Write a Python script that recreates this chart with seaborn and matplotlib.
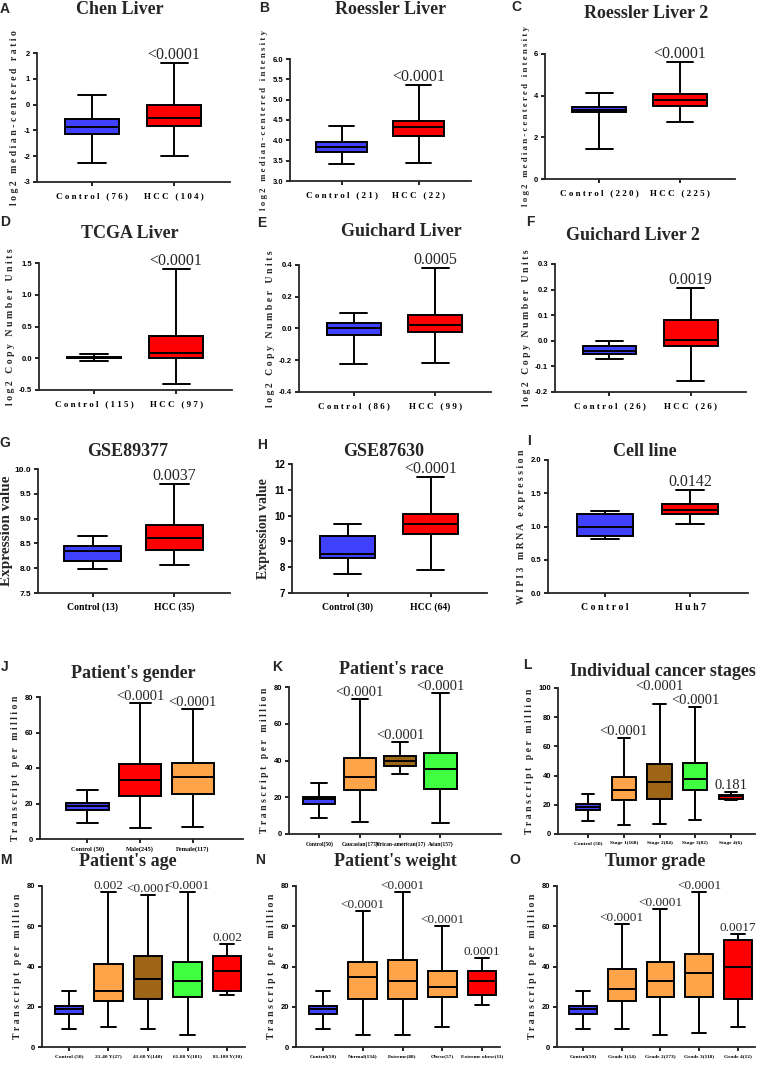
import numpy as np
import pandas as pd
import matplotlib
matplotlib.use('Agg')
import matplotlib.pyplot as plt
import seaborn as sns

BLUE = '#4040ff'
RED = '#ff0000'
ORANGE = '#ffa448'
BROWN = '#9e6418'
GREEN = '#40ff40'

# five-number summaries: [min, q1, median, q3, max]
chen_groups = ['Control (76)', 'HCC (104)']
chen_stats = [[-2.28, -1.15, -0.85, -0.56, 0.37], [-2.01, -0.83, -0.52, -0.02, 1.61]]
chen_p = ['', '<0.0001']

roes_groups = ['Control (21)', 'HCC (22)']
roes_stats = [[3.43, 3.72, 3.84, 3.96, 4.36], [3.44, 4.10, 4.33, 4.48, 5.37]]
roes_p = ['', '<0.0001']

roes2_groups = ['Control (220)', 'HCC (225)']
roes2_stats = [[1.44, 3.20, 3.33, 3.46, 4.13], [2.72, 3.52, 3.81, 4.10, 5.62]]
roes2_p = ['', '<0.0001']

tcga_groups = ['Control (115)', 'HCC (97)']
tcga_stats = [[-0.04, 0.0, 0.01, 0.015, 0.06], [-0.41, 0.01, 0.09, 0.35, 1.40]]
tcga_p = ['', '<0.0001']

guich_groups = ['Control (86)', 'HCC (99)']
guich_stats = [[-0.221, -0.042, 0.004, 0.032, 0.099], [-0.217, -0.021, 0.021, 0.084, 0.379]]
guich_p = ['', '0.0005']

guich2_groups = ['Control (26)', 'HCC (26)']
guich2_stats = [[-0.071, -0.052, -0.041, -0.021, 0.0], [-0.157, -0.021, 0.005, 0.081, 0.207]]
guich2_p = ['', '0.0019']

gse1_groups = ['Control (13)', 'HCC (35)']
gse1_stats = [[7.99, 8.15, 8.34, 8.45, 8.64], [8.07, 8.36, 8.60, 8.87, 9.70]]
gse1_p = ['', '0.0037']

gse2_groups = ['Control (30)', 'HCC (64)']
gse2_stats = [[7.75, 8.36, 8.53, 9.21, 9.66], [7.88, 9.27, 9.66, 10.06, 11.49]]
gse2_p = ['', '<0.0001']

cell_groups = ['Control', 'Huh7']
cell_stats = [[0.815, 0.86, 0.985, 1.185, 1.235], [1.035, 1.19, 1.25, 1.34, 1.55]]
cell_p = ['', '0.0142']

control50 = [8.8, 16.3, 18.8, 20.4, 27.6]

gender_groups = ['Control (50)', 'Male(245)', 'Female(117)']
gender_stats = [control50, [6.4, 24.4, 33.2, 42.5, 76.6], [6.9, 25.1, 35.0, 42.9, 73.1]]
gender_p = ['', '<0.0001', '<0.0001']

race_groups = ['Control(50)', 'Caucasian(177)', 'African-american(17)', 'Asian(157)']
race_stats = [control50, [6.3, 24.1, 30.8, 41.3, 73.5], [32.8, 37.2, 39.5, 42.6, 50.1],
              [6.0, 24.5, 35.4, 44.1, 76.7]]
race_p = ['', '<0.0001', '<0.0001', '<0.0001']

stage_groups = ['Control (50)', 'Stage 1(168)', 'Stage 2(84)', 'Stage 3(82)', 'Stage 4(6)']
stage_stats = [control50, [6.4, 23.5, 29.9, 38.8, 65.8], [6.8, 24.2, 35.6, 47.9, 89.0],
               [9.4, 29.9, 37.9, 48.6, 87.0], [23.1, 24.0, 25.8, 26.9, 29.0]]
stage_p = ['', '<0.0001', '<0.0001', '<0.0001', '0.181']

age_groups = ['Control (50)', '21-40 Y(27)', '41-60 Y(140)', '61-80 Y(181)', '81-100 Y(10)']
age_stats = [control50, [10, 23, 28, 41, 77], [9, 24, 34, 45, 75.5],
             [6, 25, 33, 42, 77], [26, 28, 38, 45, 51]]
age_p = ['', '0.002', '<0.0001', '<0.0001', '0.002']

weight_groups = ['Control(50)', 'Normal(134)', 'Extreme(88)', 'Obese(57)', 'Extreme obese(11)']
weight_stats = [control50, [6, 24, 35, 42, 67.5], [6, 24, 33, 43, 77],
                [10, 25, 30, 38, 60], [21, 26, 33, 38, 44]]
weight_p = ['', '<0.0001', '<0.0001', '<0.0001', '0.0001']

grade_groups = ['Control(50)', 'Grade 1(54)', 'Grade 2(173)', 'Grade 3(118)', 'Grade 4(12)']
grade_stats = [control50, [9, 23, 29, 39, 61], [6, 25, 33, 42, 68.5],
               [7, 25, 37, 46, 77], [10, 24, 40, 53, 56]]
grade_p = ['', '<0.0001', '<0.0001', '<0.0001', '0.0017']

sns.set_style('ticks')
plt.rcParams['font.family'] = ['Liberation Sans', 'DejaVu Sans']
SERIF = 'Liberation Serif'

W, H = 761, 1082
fig = plt.figure(figsize=(W / 100, H / 100), dpi=100)


def px_axes(left, top, right, bottom):
    return fig.add_axes([left / W, 1 - bottom / H, (right - left) / W, (bottom - top) / H])


def px_text(x, y, s, **kw):
    fig.text(x / W, 1 - y / H, s, ha='center', va='center', **kw)


def spaced(s):
    return ' '.join(s)


def panel(rect, letter, letter_xy, title, title_xy, groups, stats, pvals, colors,
          ylim, step, fmt, ylabel, xlim, width=0.66, xfont=6.5, xspaced=True, xpad=4,
          yfont=5.5, ylab_font=7, ylab_spaced=True, labelpad=3, pfont=11.5, p_raise=None,
          title_font=13):
    ax = px_axes(*rect)
    df = pd.DataFrame([(g, v) for g, s in zip(groups, stats) for v in s], columns=['group', 'value'])
    sns.boxplot(data=df, x='group', y='value', hue='group', order=groups, hue_order=groups,
                palette=colors, saturation=1, whis=(0, 100), width=width, linewidth=1.4,
                linecolor='black', legend=False, ax=ax)
    ax.set_xlim(*xlim)
    ax.set_ylim(*ylim)
    ticks = np.arange(ylim[0], ylim[1] + step / 2, step)
    ax.set_yticks(ticks)
    ax.set_yticklabels([fmt.format(t) for t in ticks], fontsize=yfont, fontweight='bold')
    ax.set_xticks(range(len(groups)))
    xl = [spaced(g) if xspaced else g for g in groups]
    ax.set_xticklabels(xl, fontsize=xfont, fontweight='bold', family=SERIF)
    ax.set_xlabel('')
    ax.set_ylabel(spaced(ylabel) if ylab_spaced else ylabel, fontsize=ylab_font,
                  fontweight='bold', family=SERIF, labelpad=labelpad)
    sns.despine(ax=ax)
    for sp in ['left', 'bottom']:
        ax.spines[sp].set_linewidth(1.3)
    ax.tick_params(width=1.2, length=3, pad=2, colors='black')
    ax.tick_params(axis='x', pad=xpad)
    raise_pts = p_raise or [0] * len(pvals)
    for i, p in enumerate(pvals):
        if p:
            ax.annotate(p, xy=(i, stats[i][4]), xytext=(0, raise_pts[i]), textcoords='offset points',
                        ha='center', va='bottom', fontsize=pfont, family=SERIF,
                        annotation_clip=False)
    px_text(*letter_xy, letter, fontsize=10, fontweight='bold')
    px_text(*title_xy, title, fontsize=title_font, fontweight='bold', family=SERIF)
    return ax


two = (-0.67, 1.68)
bc = [BLUE, RED]

panel((37, 53, 230, 182), 'A', (5, 9), 'Chen Liver', (120, 9), chen_groups, chen_stats, chen_p, bc,
      (-3, 2), 1, '{:.0f}', 'log2 median-centered ratio', two)
panel((290, 59, 471, 181), 'B', (264, 8), 'Roessler Liver', (391, 10), roes_groups, roes_stats, roes_p, bc,
      (3.0, 6.0), 0.5, '{:.1f}', 'log2 median-centered intensity', two, ylab_font=6.3)
panel((545, 54, 735, 179), 'C', (516, 7), 'Roessler Liver 2', (646, 13), roes2_groups, roes2_stats, roes2_p, bc,
      (0, 6), 2, '{:.0f}', 'log2 median-centered intensity', two, ylab_font=6.3)

panel((39, 263, 232, 390), 'D', (5, 222), 'TCGA Liver', (130, 234), tcga_groups, tcga_stats, tcga_p, bc,
      (-0.5, 1.5), 0.5, '{:.1f}', 'log2 Copy Number Units', two)
panel((299, 265, 491, 392), 'E', (262, 223), 'Guichard Liver', (401, 231), guich_groups, guich_stats, guich_p, bc,
      (-0.4, 0.4), 0.2, '{:.1f}', 'log2 Copy Number Units', two)
panel((555, 264, 746, 392), 'F', (530, 222), 'Guichard Liver 2', (633, 235), guich2_groups, guich2_stats, guich2_p, bc,
      (-0.2, 0.3), 0.1, '{:.1f}', 'log2 Copy Number Units', two)

panel((38, 469, 230, 593), 'G', (5, 443), 'GSE89377', (128, 452), gse1_groups, gse1_stats, gse1_p, bc,
      (7.5, 10.0), 0.5, '{:.1f}', 'Expression value', two, width=0.7, xfont=7, xspaced=False,
      yfont=6, ylab_font=11, ylab_spaced=False, labelpad=1)
panel((292, 464, 487, 593), 'H', (262, 445), 'GSE87630', (384, 452), gse2_groups, gse2_stats, gse2_p, bc,
      (7, 12), 1, '{:.0f}', 'Expression value', two, xfont=7, xspaced=False,
      yfont=7, ylab_font=10, ylab_spaced=False)
panel((548, 460, 748, 593), 'I', (529, 441), 'Cell line', (645, 452), cell_groups, cell_stats, cell_p, bc,
      (0, 2.0), 0.5, '{:.1f}', 'WIPI3 mRNA expression', two, xfont=7)

panel((40, 697, 243, 839), 'J', (5, 667), "Patient's gender", (133, 674), gender_groups, gender_stats, gender_p,
      [BLUE, RED, ORANGE], (0, 80), 20, '{:.0f}', 'Transcript per million', (-0.9, 2.95),
      width=0.8, xfont=4.6, xspaced=False, xpad=2, pfont=10.5)
panel((289, 687, 501, 834), 'K', (277, 667), "Patient's race", (391, 670), race_groups, race_stats, race_p,
      [BLUE, ORANGE, BROWN, GREEN], (0, 80), 20, '{:.0f}', 'Transcript per million', (-0.75, 4.5),
      width=0.8, xfont=4.0, xspaced=False, xpad=2, pfont=10.5)
panel((558, 688, 755, 834), 'L', (527, 665), 'Individual cancer stages', (663, 672), stage_groups, stage_stats,
      stage_p, [BLUE, ORANGE, BROWN, GREEN, RED], (0, 100), 20, '{:.0f}', 'Transcript per million',
      (-0.84, 4.67), width=0.68, xfont=3.9, xspaced=False, xpad=2, pfont=10.5,
      p_raise=[0, 0, 8, 0, 0])

panel((42, 886, 245, 1047), 'M', (6, 860), "Patient's age", (128, 861), age_groups, age_stats, age_p,
      [BLUE, ORANGE, BROWN, GREEN, RED], (0, 80), 20, '{:.0f}', 'Transcript per million', (-0.68, 4.45),
      width=0.72, xfont=3.9, xspaced=False, xpad=2, pfont=9.5)
panel((296, 886, 500, 1047), 'N', (260, 860), "Patient's weight", (395, 861), weight_groups, weight_stats,
      weight_p, [BLUE, ORANGE, ORANGE, ORANGE, RED], (0, 80), 20, '{:.0f}', 'Transcript per million',
      (-0.68, 4.45), width=0.72, xfont=3.9, xspaced=False, xpad=2, pfont=9.5)
panel((557, 886, 755, 1047), 'O', (515, 860), 'Tumor grade', (655, 861), grade_groups, grade_stats, grade_p,
      [BLUE, ORANGE, ORANGE, ORANGE, RED], (0, 80), 20, '{:.0f}', 'Transcript per million', (-0.68, 4.45),
      width=0.72, xfont=3.9, xspaced=False, xpad=2, pfont=9.5)

fig.savefig('out.png', dpi=100)
